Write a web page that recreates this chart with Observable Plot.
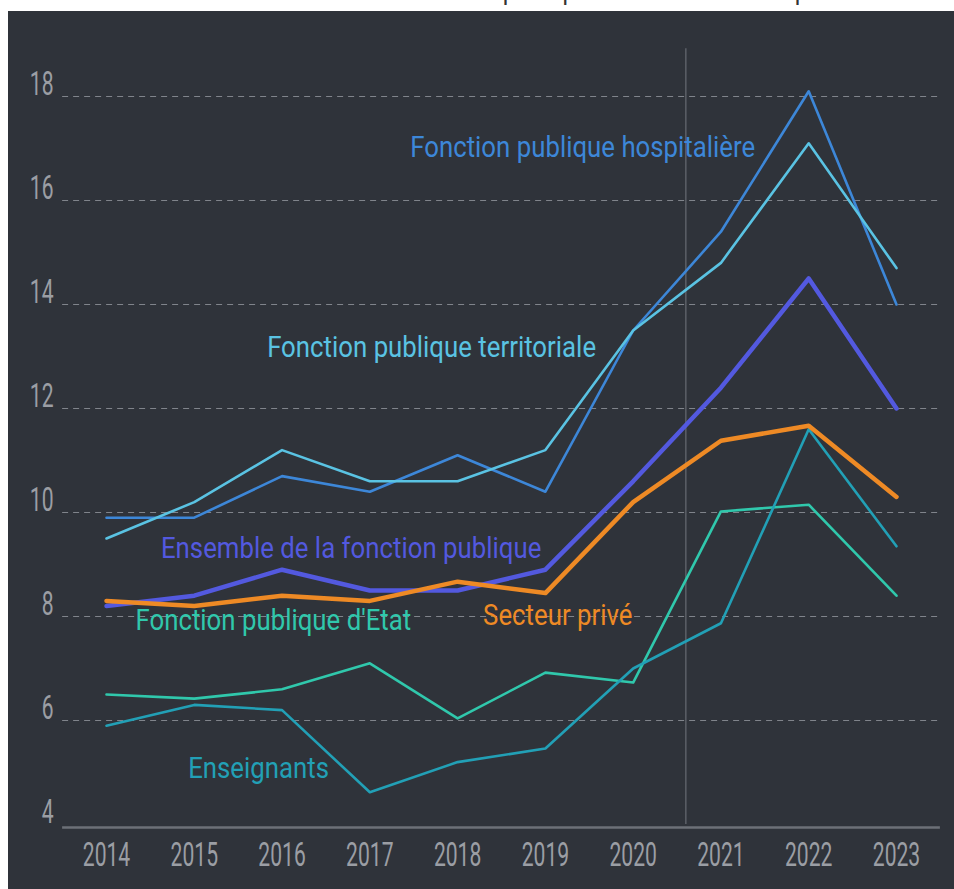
<!DOCTYPE html>
<html><head><meta charset="utf-8">
<script src="https://cdn.jsdelivr.net/npm/d3@7"></script>
<script src="https://cdn.jsdelivr.net/npm/@observablehq/plot@0.6"></script>
<style>
body{margin:0;background:#fff;width:954px;height:889px;position:relative;overflow:hidden;font-family:Roboto,sans-serif}
#title{position:absolute;left:0;top:0;width:954px;height:11px;overflow:hidden}
#title span{position:absolute;left:0;width:954px;text-align:center;top:-20px;font-size:24px;line-height:24px;color:#333;white-space:nowrap}
#panel{position:absolute;left:8px;top:11px;width:946px;height:878px;background:#2f333a}
</style></head><body>
<div id="title"><span>Taux d'absentéisme dans la fonction publique et dans le secteur privé</span></div>
<div id="panel"></div>
<script>
const years = [2014, 2015, 2016, 2017, 2018, 2019, 2020, 2021, 2022, 2023];
const hospitaliere = [9.9, 9.9, 10.7, 10.4, 11.1, 10.4, 13.5, 15.4, 18.1, 14.0];
const territoriale = [9.5, 10.2, 11.2, 10.6, 10.6, 11.2, 13.5, 14.8, 17.1, 14.7];
const ensemble     = [8.2, 8.4, 8.9, 8.5, 8.5, 8.9, 10.6, 12.4, 14.5, 12.0];
const prive        = [8.3, 8.2, 8.4, 8.3, 8.67, 8.45, 10.2, 11.38, 11.67, 10.3];
const etat         = [6.5, 6.42, 6.6, 7.1, 6.04, 6.92, 6.73, 10.02, 10.15, 8.4];
const enseignants  = [5.9, 6.3, 6.2, 4.62, 5.2, 5.46, 7.0, 7.87, 11.6, 9.35];
const seriesNames = ["Fonction publique hospitalière", "Fonction publique territoriale", "Ensemble de la fonction publique", "Secteur privé", "Fonction publique d'Etat", "Enseignants"];
const seriesValues = [hospitaliere, territoriale, ensemble, prive, etat, enseignants];
const yTicks = [4, 6, 8, 10, 12, 14, 16, 18];
const divider = 2020.6;

// styling (kept apart from data)
const colors = {
  "Fonction publique hospitalière": "#3d87d8",
  "Fonction publique territoriale": "#5ac3e3",
  "Ensemble de la fonction publique": "#5359df",
  "Secteur privé": "#ee8a25",
  "Fonction publique d'Etat": "#30c8ac",
  "Enseignants": "#22a0b6"
};
const thick = new Set(["Ensemble de la fonction publique", "Secteur privé"]);
// label anchors (data units)
const labelPos = [
  {name: "Fonction publique hospitalière", x: 2017.46, y: 17.02},
  {name: "Fonction publique territoriale", x: 2015.83, y: 13.17},
  {name: "Ensemble de la fonction publique", x: 2014.62, y: 9.31},
  {name: "Secteur privé", x: 2018.29, y: 8.02},
  {name: "Fonction publique d'Etat", x: 2014.33, y: 7.92},
  {name: "Enseignants", x: 2014.93, y: 5.08}
];

const rows = seriesNames.flatMap((name, i) => years.map((year, j) => ({series: name, year, value: seriesValues[i][j]})));

const chart = Plot.plot({
  width: 946,
  height: 878,
  marginTop: 33,
  marginBottom: 65,
  marginLeft: 98,
  marginRight: 58,
  style: {background: "transparent", fontFamily: "Roboto, sans-serif", overflow: "visible"},
  x: {type: "linear", domain: [2014, 2023], axis: null},
  y: {domain: [4, 19], axis: null},
  marks: [
    Plot.ruleY(yTicks.filter(d => d > 4), {x1: 2013.5, x2: 2023.5, stroke: "#80848b", strokeWidth: 1, strokeDasharray: "6,5"}),
    Plot.ruleX([divider], {y1: 4, y2: 18.92, stroke: "#5c6068", strokeWidth: 1.5}),
    Plot.ruleY([4], {x1: 2013.5, x2: 2023.5, stroke: "#6c7077", strokeWidth: 2.5, dy: 3}),
    Plot.line(rows.filter(d => !thick.has(d.series)), {x: "year", y: "value", z: "series", stroke: d => colors[d.series], strokeWidth: 2.6}),
    Plot.line(rows.filter(d => thick.has(d.series)), {x: "year", y: "value", z: "series", stroke: d => colors[d.series], strokeWidth: 4.5}),
    Plot.text(labelPos, {x: "x", y: "y", text: "name", fill: d => colors[d.name], textAnchor: "start", fontSize: 30}),
    Plot.axisX(years, {tickSize: 0, tickPadding: 18, fontSize: 33, fill: "#9b9ea4", tickFormat: d => String(d)}),
    Plot.axisY(yTicks, {tickSize: 0, tickPadding: 53, fontSize: 33, fill: "#9b9ea4", dy: -12, tickFormat: d => String(d)})
  ]
});
document.getElementById("panel").appendChild(chart);

function squeeze(el, k) {
  const t = el.getAttribute("transform") || "";
  el.setAttribute("transform", t + ` scale(${k},1)`);
}
chart.querySelectorAll("text").forEach(el => {
  const isTick = el.closest('g[aria-label$="tick label"]');
  squeeze(el, isTick ? 0.64 : 0.86);
});
</script>
</body></html>
